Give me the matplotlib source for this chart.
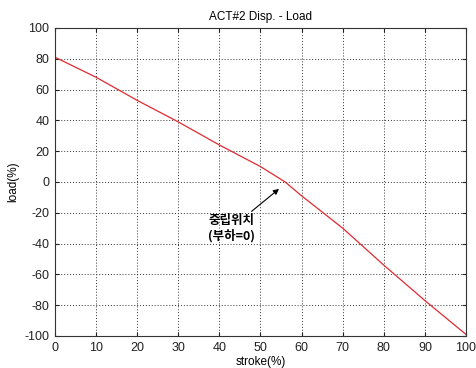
import matplotlib
matplotlib.use("Agg")
import matplotlib.pyplot as plt

stroke = [0, 10, 20, 30, 40, 50, 56, 60, 70, 80, 90, 100]
load = [81, 68, 53, 39, 24, 10, 0, -9, -30, -54, -77, -99]
xticks = list(range(0, 101, 10))
yticks = list(range(-100, 101, 20))

plt.rcParams['font.family'] = ['Liberation Sans', 'Noto Sans CJK KR', 'DejaVu Sans']
plt.rcParams['axes.unicode_minus'] = False

fig = plt.figure(figsize=(4.76, 3.68), dpi=100)
ax = fig.add_axes([0.1155, 0.087, 0.8635, 0.837])
ax.plot(stroke, load, color='#e02a30', lw=0.9)
ax.set_xlim(0, 100)
ax.set_ylim(-100, 100)
ax.set_xticks(xticks)
ax.set_yticks(yticks)
ax.tick_params(direction='in', top=True, right=True, labelsize=9, length=3, pad=4, colors='#222222')
ax.grid(True, linestyle=(0, (1, 2)), color='#333333', lw=0.7)
for s in ax.spines.values():
    s.set_linewidth(0.8)
    s.set_color('#333333')
ax.set_title('ACT#2 Disp. - Load', fontsize=8.5, pad=6)
ax.set_xlabel('stroke(%)', fontsize=8.5, labelpad=2)
ax.set_ylabel('load(%)', fontsize=8.5, labelpad=4)
ax.annotate('중립위치\n(부하=0)', xy=(54.5, -4.5), xytext=(43, -30),
            ha='center', va='center', fontsize=9, fontweight='bold',
            family=['Noto Sans CJK KR', 'DejaVu Sans'], linespacing=1.15,
            arrowprops=dict(arrowstyle='-|>', color='black', lw=0.8,
                            shrinkA=0, shrinkB=0, mutation_scale=8,
                            relpos=(0.85, 1.0)))
fig.savefig('out.png', dpi=100)
